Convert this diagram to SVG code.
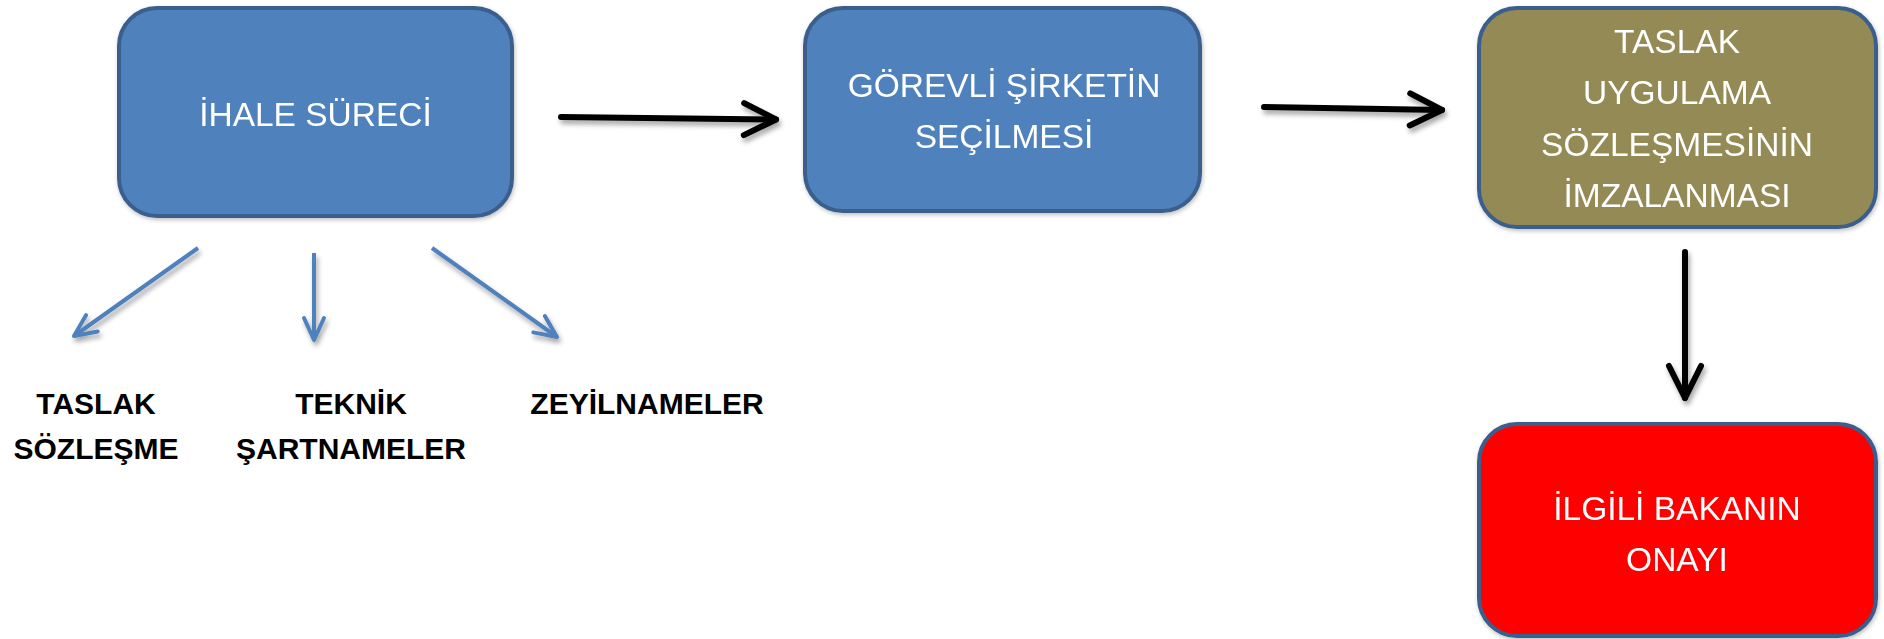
<svg xmlns="http://www.w3.org/2000/svg" width="1884" height="639" viewBox="0 0 1884 639">
  <defs>
    <style>
      .box { stroke: #3B5F8C; stroke-width: 4; }
      .blue { fill: #4F81BD; }
      .olive { fill: #948A54; }
      .red { fill: #FF0000; }
      .bt { font-family: "Liberation Sans", Arial, sans-serif; font-size: 33.5px; fill: #FFFFFF; text-anchor: middle; }
      .lbl { font-family: "Liberation Sans", Arial, sans-serif; font-size: 30px; font-weight: bold; fill: #000000; text-anchor: middle; }
      .ka { stroke: #000000; stroke-width: 6; fill: none; stroke-linecap: round; stroke-linejoin: round; }
      .ba { stroke: #4F81BD; stroke-width: 4; fill: none; stroke-linecap: butt; stroke-linejoin: round; }
    </style>
    <filter id="sh" x="-20%" y="-20%" width="140%" height="160%">
      <feDropShadow dx="2" dy="4" stdDeviation="2.5" flood-color="#000000" flood-opacity="0.35"/>
    </filter>
    <filter id="bsh" x="-5%" y="-5%" width="110%" height="115%">
      <feDropShadow dx="1" dy="2" stdDeviation="2" flood-color="#000000" flood-opacity="0.25"/>
    </filter>
    <marker id="mk" markerUnits="userSpaceOnUse" viewBox="-40 -22 46 44" refX="0" refY="0" markerWidth="46" markerHeight="44" orient="auto">
      <path d="M-32,-16 L0,0 L-32,16" stroke="#000000" stroke-width="6" fill="none" stroke-linecap="round" stroke-linejoin="round"/>
    </marker>
    <marker id="mb" markerUnits="userSpaceOnUse" viewBox="-28 -16 32 32" refX="0" refY="0" markerWidth="32" markerHeight="32" orient="auto">
      <path d="M-22,-10 L0,0 L-22,10" stroke="#4F81BD" stroke-width="4" fill="none" stroke-linecap="round" stroke-linejoin="round"/>
    </marker>
  </defs>

  <rect width="1884" height="639" fill="#FFFFFF"/>

  <g id="connectors">
    <g filter="url(#sh)">
      <line class="ka" x1="561" y1="117" x2="776" y2="119.5" marker-end="url(#mk)"/>
      <line class="ka" x1="1264" y1="107" x2="1442" y2="110" marker-end="url(#mk)"/>
      <line class="ka" x1="1685" y1="252" x2="1685" y2="398" marker-end="url(#mk)"/>
      <line class="ba" x1="198" y1="248" x2="74" y2="336" marker-end="url(#mb)"/>
      <line class="ba" x1="314" y1="253" x2="314" y2="340" marker-end="url(#mb)"/>
      <line class="ba" x1="432" y1="248" x2="557" y2="337" marker-end="url(#mb)"/>
    </g>
  </g>

  <g id="node-ihale" filter="url(#bsh)">
    <rect class="box blue" x="119" y="8" width="393" height="208" rx="38" ry="38"/>
    <text class="bt" x="315.5" y="126">İHALE SÜRECİ</text>
  </g>

  <g id="node-gorevli" filter="url(#bsh)">
    <rect class="box blue" x="805" y="8" width="395" height="203" rx="38" ry="38"/>
    <text class="bt" x="1004" y="97">GÖREVLİ ŞİRKETİN</text>
    <text class="bt" x="1004" y="148">SEÇİLMESİ</text>
  </g>

  <g id="node-taslak-uygulama" filter="url(#bsh)">
    <rect class="box olive" x="1479" y="8" width="397" height="219" rx="38" ry="38"/>
    <text class="bt" x="1677" y="53">TASLAK</text>
    <text class="bt" x="1677" y="104">UYGULAMA</text>
    <text class="bt" x="1677" y="156">SÖZLEŞMESİNİN</text>
    <text class="bt" x="1677" y="207">İMZALANMASI</text>
  </g>

  <g id="node-bakan" filter="url(#bsh)">
    <rect class="box red" x="1479" y="424" width="397" height="212" rx="38" ry="38"/>
    <text class="bt" x="1677" y="520">İLGİLİ BAKANIN</text>
    <text class="bt" x="1677" y="571">ONAYI</text>
  </g>

  <g id="label-taslak-sozlesme">
    <text class="lbl" x="96" y="414">TASLAK</text>
    <text class="lbl" x="96" y="459">SÖZLEŞME</text>
  </g>

  <g id="label-teknik">
    <text class="lbl" x="351" y="414">TEKNİK</text>
    <text class="lbl" x="351" y="459">ŞARTNAMELER</text>
  </g>

  <g id="label-zeyilnameler">
    <text class="lbl" x="647" y="414">ZEYİLNAMELER</text>
  </g>
</svg>
